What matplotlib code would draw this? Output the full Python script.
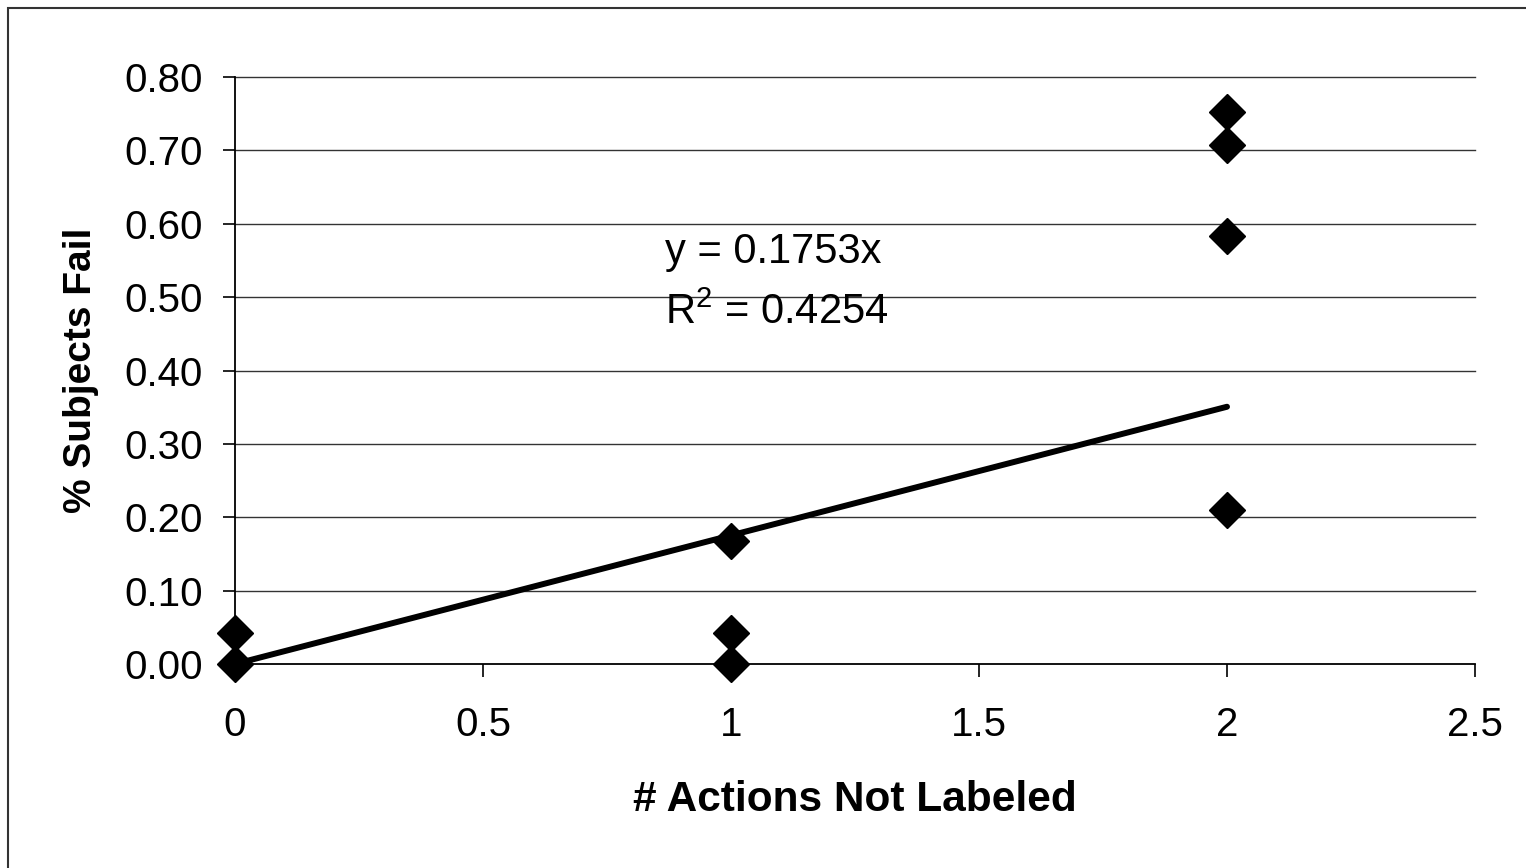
import numpy as np
import matplotlib.pyplot as plt
from matplotlib.patches import Rectangle

plt.rcParams['font.family'] = ['Liberation Sans', 'DejaVu Sans']

# data
actions = [0, 0, 1, 1, 1, 2, 2, 2, 2]
fail = [0.00, 0.042, 0.167, 0.042, 0.00, 0.752, 0.708, 0.583, 0.210]
slope = 0.1753      # trend line through origin
r2 = 0.4254
xticks = [0, 0.5, 1, 1.5, 2, 2.5]
yticks = [0.0, 0.1, 0.2, 0.3, 0.4, 0.5, 0.6, 0.7, 0.8]

W, H = 1526, 868
fig = plt.figure(figsize=(W / 100, H / 100), dpi=100)
ax = fig.add_axes([235 / W, 1 - 664 / H, (1475 - 235) / W, (664 - 77) / H])

# outer chart frame (left/top visible only)
fig.patches.append(Rectangle((8 / W, -0.1), 1.2, 1 - 8 / H + 0.1,
                             transform=fig.transFigure, fill=False,
                             edgecolor='#333333', lw=1.5))

for y in yticks[1:]:
    ax.axhline(y, color='#333333', lw=1.0, zorder=1)

xs = np.array([0, max(actions)])
ax.plot(xs, slope * xs, color='black', lw=4.3, solid_capstyle='round', zorder=2)
ax.plot(actions, fail, ls='none', marker='D', ms=18, color='black', zorder=3)

ax.text(0.867, 0.561, 'y = 0.1753x', fontsize=30, va='center', ha='left')
ax.text(0.867, 0.478, 'R$^{\\mathregular{2}}$ = %.4f' % r2, fontsize=30,
        va='center', ha='left')

ax.set_xlim(0, 2.5)
ax.set_ylim(0, 0.8)
ax.set_xticks(xticks)
ax.set_xticklabels(['0', '0.5', '1', '1.5', '2', '2.5'])
ax.set_yticks(yticks)
ax.set_yticklabels(['%.2f' % v for v in yticks])
ax.tick_params(axis='x', direction='out', length=9, width=1.2, pad=21,
               labelsize=29)
ax.tick_params(axis='y', direction='out', length=9, width=1.2, pad=14,
               labelsize=29)
for s in ['top', 'right']:
    ax.spines[s].set_visible(False)
for s in ['left', 'bottom']:
    ax.spines[s].set_linewidth(1.3)

ax.set_xlabel('# Actions Not Labeled', fontsize=30.5, fontweight='bold',
              labelpad=26)
ax.set_ylabel('% Subjects Fail', fontsize=28, fontweight='bold', labelpad=18)
for ln in ax.lines:
    ln.set_clip_on(False)

fig.savefig('out.png', dpi=100)
